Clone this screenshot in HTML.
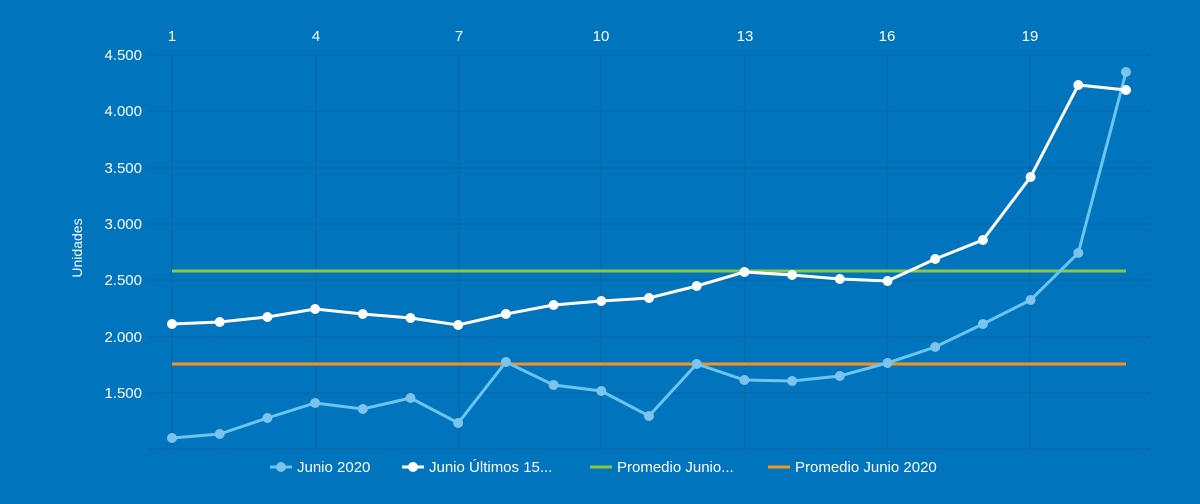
<!DOCTYPE html><html><head><meta charset="utf-8"><style>body{margin:0;background:#0075be;}svg{display:block;font-family:"Liberation Sans",sans-serif;}</style></head><body>
<svg width="1200" height="504" viewBox="0 0 1200 504">
<rect width="1200" height="504" fill="#0075be"/>
<g stroke="#0a63a3" stroke-width="1">
<line x1="148" y1="55" x2="1150" y2="55"/><line x1="148" y1="111" x2="1150" y2="111"/><line x1="148" y1="168" x2="1150" y2="168"/><line x1="148" y1="224" x2="1150" y2="224"/><line x1="148" y1="280" x2="1150" y2="280"/><line x1="148" y1="337" x2="1150" y2="337"/><line x1="148" y1="393" x2="1150" y2="393"/><line x1="148" y1="449" x2="1150" y2="449"/>
<line x1="172" y1="55" x2="172" y2="449"/><line x1="316" y1="55" x2="316" y2="449"/><line x1="459" y1="55" x2="459" y2="449"/><line x1="601" y1="55" x2="601" y2="449"/><line x1="745" y1="55" x2="745" y2="449"/><line x1="887" y1="55" x2="887" y2="449"/><line x1="1030" y1="55" x2="1030" y2="449"/>
</g>
<g fill="#fff" font-size="15" text-anchor="end">
<text x="142" y="60">4.500</text><text x="142" y="116">4.000</text><text x="142" y="173">3.500</text><text x="142" y="229">3.000</text><text x="142" y="285">2.500</text><text x="142" y="342">2.000</text><text x="142" y="398">1.500</text>
</g>
<g fill="#fff" font-size="15" text-anchor="middle">
<text x="172" y="41">1</text><text x="316" y="41">4</text><text x="459" y="41">7</text><text x="601" y="41">10</text><text x="745" y="41">13</text><text x="887" y="41">16</text><text x="1030" y="41">19</text>
</g>
<text transform="translate(82,248) rotate(-90)" fill="#fff" font-size="14" text-anchor="middle">Unidades</text>
<line x1="172" y1="271" x2="1126" y2="271" stroke="#8dc63f" stroke-width="3"/>
<line x1="172" y1="364" x2="1126" y2="364" stroke="#f7941d" stroke-width="3"/>
<polyline fill="none" stroke="#6cc5f0" stroke-width="3" points="172,438 219.7,434 267.4,418 315.1,403 362.8,409 410.5,398 458.2,423 505.9,362 553.6,385 601.3,391 649,416 696.7,364 744.4,380 792.1,381 839.8,376 887.5,363 935.2,347 982.9,324 1030.6,300 1078.3,253 1126,72"/>
<g fill="#7cc4ec">
<circle cx="172" cy="438" r="5"/><circle cx="219.7" cy="434" r="5"/><circle cx="267.4" cy="418" r="5"/><circle cx="315.1" cy="403" r="5"/><circle cx="362.8" cy="409" r="5"/><circle cx="410.5" cy="398" r="5"/><circle cx="458.2" cy="423" r="5"/><circle cx="505.9" cy="362" r="5"/><circle cx="553.6" cy="385" r="5"/><circle cx="601.3" cy="391" r="5"/><circle cx="649" cy="416" r="5"/><circle cx="696.7" cy="364" r="5"/><circle cx="744.4" cy="380" r="5"/><circle cx="792.1" cy="381" r="5"/><circle cx="839.8" cy="376" r="5"/><circle cx="887.5" cy="363" r="5"/><circle cx="935.2" cy="347" r="5"/><circle cx="982.9" cy="324" r="5"/><circle cx="1030.6" cy="300" r="5"/><circle cx="1078.3" cy="253" r="5"/><circle cx="1126" cy="72" r="5"/>
</g>
<polyline fill="none" stroke="#fff" stroke-width="3" points="172,324 219.7,322 267.4,317 315.1,309 362.8,314 410.5,318 458.2,325 505.9,314 553.6,305 601.3,301 649,298 696.7,286 744.4,272 792.1,275 839.8,279 887.5,281 935.2,259 982.9,240 1030.6,177 1078.3,85 1126,90"/>
<g fill="#fff">
<circle cx="172" cy="324" r="5"/><circle cx="219.7" cy="322" r="5"/><circle cx="267.4" cy="317" r="5"/><circle cx="315.1" cy="309" r="5"/><circle cx="362.8" cy="314" r="5"/><circle cx="410.5" cy="318" r="5"/><circle cx="458.2" cy="325" r="5"/><circle cx="505.9" cy="314" r="5"/><circle cx="553.6" cy="305" r="5"/><circle cx="601.3" cy="301" r="5"/><circle cx="649" cy="298" r="5"/><circle cx="696.7" cy="286" r="5"/><circle cx="744.4" cy="272" r="5"/><circle cx="792.1" cy="275" r="5"/><circle cx="839.8" cy="279" r="5"/><circle cx="887.5" cy="281" r="5"/><circle cx="935.2" cy="259" r="5"/><circle cx="982.9" cy="240" r="5"/><circle cx="1030.6" cy="177" r="5"/><circle cx="1078.3" cy="85" r="5"/><circle cx="1126" cy="90" r="5"/>
</g>
<g font-size="15" fill="#fff">
<line x1="270" y1="467" x2="292" y2="467" stroke="#6cc5f0" stroke-width="3"/><circle cx="281" cy="467" r="5" fill="#7cc4ec"/><text x="297" y="472">Junio 2020</text>
<line x1="402" y1="467" x2="424" y2="467" stroke="#fff" stroke-width="3"/><circle cx="413" cy="467" r="5" fill="#fff"/><text x="429" y="472">Junio Últimos 15...</text>
<line x1="590" y1="467" x2="612" y2="467" stroke="#8dc63f" stroke-width="3"/><text x="617" y="472">Promedio Junio...</text>
<line x1="768" y1="467" x2="790" y2="467" stroke="#f7941d" stroke-width="3"/><text x="795" y="472">Promedio Junio 2020</text>
</g>
</svg></body></html>
